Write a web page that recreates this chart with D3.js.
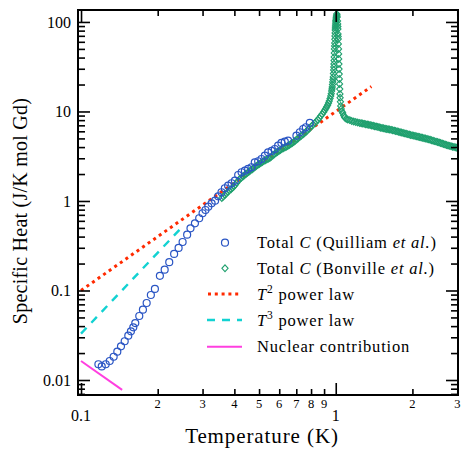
<!DOCTYPE html>
<html><head><meta charset="utf-8">
<script src="https://cdn.jsdelivr.net/npm/d3@7"></script>
<style>
body{margin:0;background:#fff}
svg{display:block}
text{font-family:"Liberation Serif","Times New Roman",serif;fill:#000}
</style>
</head><body>
<svg id="chart" width="463" height="451"></svg>
<script>
// ---- data ----
const quilliamT = [0.117,0.1206,0.125,0.1296,0.1343,0.1388,0.1435,0.1484,0.1533,0.157,0.1604,0.1633,0.1693,0.175,0.181,0.188,0.195,0.204,0.213,0.222,0.232,0.2416,0.2505,0.261,0.269,0.280,0.291,0.300,0.308,0.316,0.3256,0.336,0.3454,0.356,0.367,0.378,0.390,0.402,0.414,0.427,0.440,0.453,0.467,0.481,0.496,0.511,0.527,0.5425,0.560,0.5765,0.594,0.612,0.631,0.650,0.701,0.723,0.745,0.763,0.791];
const quilliamC = [0.0150,0.0142,0.0150,0.0163,0.0182,0.0207,0.0238,0.0271,0.0313,0.0350,0.0388,0.0433,0.0519,0.0610,0.0725,0.0891,0.104,0.146,0.171,0.207,0.256,0.299,0.348,0.420,0.495,0.563,0.641,0.729,0.793,0.864,0.942,1.008,1.128,1.251,1.387,1.483,1.577,1.686,1.952,2.093,2.181,2.279,2.380,2.706,2.777,2.946,3.207,3.50,3.62,3.81,4.15,4.45,4.60,4.72,5.37,5.86,6.37,6.66,7.44];

const bonvilleT = [
 0.357,0.362,0.367,0.372,0.377,0.382,0.388,0.393,0.398,0.403,0.409,0.414,0.420,0.426,0.432,0.438,0.444,0.450,0.456,0.462,0.469,0.475,0.481,0.487,0.494,0.501,0.508,0.515,0.522,0.529,0.536,0.543,0.551,0.558,0.566,0.574,0.582,0.590,0.598,0.606,0.614,0.622,0.631,0.639,0.648,0.657,0.666,0.675,0.684,0.693,0.703,0.712,0.722,0.732,0.743,0.753,0.763,0.773,0.784,0.794,0.805,0.816,0.828,0.839,0.850,0.861,0.873,0.885,0.897,0.905,0.914,0.922,0.930,0.937,0.943,0.950,0.956,
 0.960,0.964,0.9665,0.9689,0.971,0.973,0.9755,0.9777,0.9795,0.9812,0.9826,0.9839,0.9853,0.9866,0.9875,0.9883,0.9897,0.991,0.992,0.9928,0.9942,0.9955,0.9964,0.9973,0.9986,1.0,1.0014,1.0027,1.0045,1.0063,1.009,
 1.0115,1.0136,1.0164,1.018,1.0195,1.020,1.021,1.0218,1.0228,1.0238,1.0256,1.0265,1.027,1.0293,1.0302,1.032,1.033,1.035,1.037,1.0387,1.0405,1.0434,1.046,1.0509,1.0576,1.0653,1.075,1.0846,1.0994,1.1144,1.135,1.1555,1.1766,1.198,1.2199,1.242,
 1.259,1.276,1.293,1.311,1.329,1.347,1.365,1.384,1.403,1.422,1.441,1.461,1.481,1.501,1.521,1.542,1.563,1.585,1.606,1.628,1.650,1.673,1.696,1.719,1.742,1.766,1.790,1.815,1.840,1.865,1.890,1.916,1.942,1.968,1.995,2.022,2.050,2.078,2.106,2.135,2.164,2.193,2.223,2.254,2.285,2.316,2.347,2.379,2.412,2.445,2.478,2.512,2.546,2.581,2.616,2.651,2.687,2.724,2.761,2.799,2.837,2.876,2.915,2.955,2.99];
const bonvilleC = [
 1.080,1.12,1.167,1.21,1.261,1.31,1.354,1.40,1.452,1.52,1.597,1.68,1.762,1.82,1.878,1.94,2.003,2.06,2.126,2.19,2.249,2.32,2.386,2.45,2.525,2.59,2.659,2.73,2.799,2.85,2.909,2.96,3.023,3.12,3.224,3.33,3.436,3.53,3.62,3.71,3.81,3.88,3.96,4.04,4.117,4.22,4.33,4.45,4.562,4.71,4.87,5.03,5.19,5.36,5.53,5.71,5.90,6.13,6.37,6.62,6.89,7.16,7.44,7.73,8.04,8.46,8.91,9.38,9.87,10.32,10.80,11.30,11.82,12.45,13.1,13.95,14.9,
 15.8,16.9,17.8,18.8,20.0,21.4,22.8,24.3,26.5,29.1,31.4,33.9,37.0,40.6,45.0,49.9,54.0,58.2,64.0,69.8,75.5,81.4,85.8,90.2,95.0,100,104,108,112.5,116.7,122.8,
 119.5,113.7,102.6,95.0,89.0,83.5,73.4,69.0,64.6,56.8,49.9,43.9,38.6,33.9,29.8,26.2,23.1,20.3,17.8,15.7,14.2,12.8,11.52,10.66,10.0,9.62,9.02,8.57,8.29,8.14,8.0,7.83,7.73,7.63,7.54,7.44,
 7.38,7.33,7.27,7.21,7.15,7.10,7.04,6.98,6.91,6.85,6.79,6.73,6.66,6.59,6.53,6.48,6.42,6.37,6.33,6.29,6.23,6.17,6.11,6.05,5.99,5.93,5.87,5.81,5.75,5.69,5.63,5.58,5.52,5.46,5.41,5.37,5.32,5.27,5.23,5.19,5.13,5.08,5.03,4.98,4.93,4.88,4.82,4.77,4.71,4.66,4.60,4.55,4.50,4.45,4.39,4.33,4.27,4.22,4.17,4.13,4.08,4.04,4.00,3.97,3.93];

const t2LawT = [0.1, 1.38],  t2LawC = [0.1, 19.0];
const t3LawT = [0.1, 0.25],  t3LawC = [0.033, 0.516];
const nuclearT = [0.1, 0.145], nuclearC = [0.0163, 0.00775];

const xMajorTicks = [0.1, 1], xMajorLabels = ["0.1", "1"];
const xMinorTicks = [0.2,0.3,0.4,0.5,0.6,0.7,0.8,0.9,2,3];
const xMinorLabels = ["2","3","4","5","6","7","8","9","2","3"];
const yMajorTicks = [0.01, 0.1, 1, 10, 100], yMajorLabels = ["0.01","0.1","1","10","100"];
const yMinorTicks = [0.007,0.008,0.009,0.02,0.03,0.04,0.05,0.06,0.07,0.08,0.09,0.2,0.3,0.4,0.5,0.6,0.7,0.8,0.9,2,3,4,5,6,7,8,9,20,30,40,50,60,70,80,90];

// ---- layout ----
const L = 78, R = 458, T = 10, B = 395;
const svg = d3.select("#chart");
const x = d3.scaleLog().domain([0.0973, 3.02]).range([L, R]);
const y = d3.scaleLog().domain([0.0068, 136]).range([B, T]);

const COL_BLUE = "#2a55c4", COL_GREEN = "#1fa06e", COL_RED = "#ff2a00", COL_CYAN = "#12d2d2", COL_MAG = "#ff3fe0";

svg.append("defs").append("clipPath").attr("id","clip")
  .append("rect").attr("x", L).attr("y", T).attr("width", R-L).attr("height", B-T);

const plot = svg.append("g").attr("clip-path","url(#clip)");

const lineGen = d3.line().x(d => x(d[0])).y(d => y(d[1]));
function drawLine(ts, cs, color, width, dash) {
  const p = plot.append("path").datum(ts.map((t,i)=>[t, cs[i]]))
    .attr("d", lineGen).attr("fill","none").attr("stroke", color).attr("stroke-width", width);
  if (dash) p.attr("stroke-dasharray", dash);
}
drawLine(nuclearT, nuclearC, COL_MAG, 2, null);
drawLine(t3LawT, t3LawC, COL_CYAN, 2.4, "8,7");
drawLine(t2LawT, t2LawC, COL_RED, 3, "3,3.8");

const diamond = "M0,-3.4L3.1,0L0,3.4L-3.1,0Z";
plot.append("g").selectAll("path").data(bonvilleT.map((t,i)=>[t, bonvilleC[i]])).join("path")
  .attr("d", diamond).attr("transform", d => `translate(${x(d[0])},${y(d[1])})`)
  .attr("fill","none").attr("stroke", COL_GREEN).attr("stroke-width", 1.1);

plot.append("g").selectAll("circle").data(quilliamT.map((t,i)=>[t, quilliamC[i]])).join("circle")
  .attr("cx", d => x(d[0])).attr("cy", d => y(d[1])).attr("r", 3.5)
  .attr("fill","none").attr("stroke", COL_BLUE).attr("stroke-width", 1.2);

// ---- axes (inward ticks on all four sides) ----
function axis(gen, scale, vals, size, tx, ty) {
  const g = svg.append("g").attr("transform", `translate(${tx},${ty})`)
    .call(gen(scale).tickValues(vals).tickSize(-size).tickFormat(""));
  g.select(".domain").remove();
  g.selectAll("line").attr("stroke","#000").attr("stroke-width",1.6);
}
axis(d3.axisBottom, x, xMinorTicks, 6, 0, B);
axis(d3.axisBottom, x, xMajorTicks, 12, 0, B);
axis(d3.axisTop, x, xMinorTicks, 6, 0, T);
axis(d3.axisTop, x, xMajorTicks, 12, 0, T);
axis(d3.axisLeft, y, yMinorTicks, 7, L, 0);
axis(d3.axisLeft, y, yMajorTicks, 12, L, 0);
axis(d3.axisRight, y, yMinorTicks, 7, R, 0);
axis(d3.axisRight, y, yMajorTicks, 12, R, 0);

svg.append("rect").attr("x", L).attr("y", T).attr("width", R-L).attr("height", B-T)
  .attr("fill","none").attr("stroke","#000").attr("stroke-width",2);

// tick labels
svg.append("g").selectAll("text").data(yMajorTicks).join("text")
  .attr("x", L-7).attr("y", d => y(d)).attr("dy","0.35em").attr("text-anchor","end")
  .attr("font-size", 16).text((d,i) => yMajorLabels[i]);
svg.append("g").selectAll("text").data(xMajorTicks).join("text")
  .attr("x", d => x(d)).attr("y", 421).attr("text-anchor","middle")
  .attr("font-size", 16).text((d,i) => xMajorLabels[i]);
svg.append("g").selectAll("text").data(xMinorTicks).join("text")
  .attr("x", d => x(d)).attr("y", 408).attr("text-anchor","middle")
  .attr("font-size", 12.5).text((d,i) => xMinorLabels[i]);

// axis titles
svg.append("text").attr("x", 262).attr("y", 443).attr("text-anchor","middle")
  .attr("font-size", 21).attr("letter-spacing", 0.9).text("Temperature (K)");
svg.append("text").attr("transform","translate(27,211) rotate(-90)").attr("text-anchor","middle")
  .attr("font-size", 20).attr("letter-spacing", 0.25).text("Specific Heat (J/K mol Gd)");

// ---- legend ----
const legY = [242.7, 268.3, 294, 320, 346.7];
const lg = svg.append("g");
lg.append("circle").attr("cx",225).attr("cy",legY[0]).attr("r",3.5).attr("fill","none").attr("stroke",COL_BLUE).attr("stroke-width",1.2);
lg.append("path").attr("d",diamond).attr("transform",`translate(225,${legY[1]})`).attr("fill","none").attr("stroke",COL_GREEN).attr("stroke-width",1.1);
lg.append("line").attr("x1",208).attr("x2",242).attr("y1",legY[2]).attr("y2",legY[2]).attr("stroke",COL_RED).attr("stroke-width",3).attr("stroke-dasharray","3,3.8");
lg.append("line").attr("x1",207).attr("x2",242).attr("y1",legY[3]).attr("y2",legY[3]).attr("stroke",COL_CYAN).attr("stroke-width",2.4).attr("stroke-dasharray","8,7");
lg.append("line").attr("x1",207).attr("x2",242).attr("y1",legY[4]).attr("y2",legY[4]).attr("stroke",COL_MAG).attr("stroke-width",2);

function legText(i, parts) {
  const t = lg.append("text").attr("x",257).attr("y",legY[i]).attr("dy","0.35em")
    .attr("font-size",16.5).attr("letter-spacing",0.8);
  parts.forEach(p => {
    const s = t.append("tspan").text(p.t);
    if (p.i) s.attr("font-style","italic");
    if (p.sup) s.attr("font-size",11.5).attr("dy","-0.55em");
    if (p.after) s.attr("dy","0.38em");
  });
}
legText(0, [{t:"Total "},{t:"C",i:1},{t:" (Quilliam "},{t:"et al.",i:1},{t:")"}]);
legText(1, [{t:"Total "},{t:"C",i:1},{t:" (Bonville "},{t:"et al.",i:1},{t:")"}]);
legText(2, [{t:"T",i:1},{t:"2",sup:1},{t:" power law",after:1}]);
legText(3, [{t:"T",i:1},{t:"3",sup:1},{t:" power law",after:1}]);
legText(4, [{t:"Nuclear contribution"}]);
</script>
</body></html>
